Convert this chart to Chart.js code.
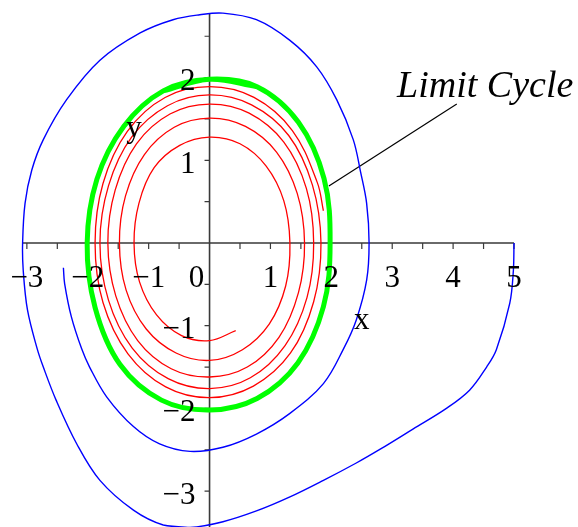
<!DOCTYPE html>
<html>
<head>
<meta charset="utf-8">
<script src="https://cdn.jsdelivr.net/npm/chart.js@4/dist/chart.umd.min.js"></script>
<style>
  html, body { margin: 0; padding: 0; background: #fff; }
  #wrap { width: 578px; height: 527px; position: relative; }
</style>
</head>
<body>
<div id="wrap"><canvas id="c"></canvas></div>
<script>
// Van der Pol phase plane: spiral from inside, trajectory from outside, limit cycle.
const redX = [0.43, 0, -0.46, -0.87, -1.15, -1.24, -1.16, -0.91, -0.49, 0, 0.50, 0.93, 1.22, 1.32, 1.25, 0.98, 0.54, 0,
  -0.55, -1.04, -1.37, -1.48, -1.38, -1.07, -0.58, 0, 0.59, 1.10, 1.44, 1.56, 1.46, 1.14, 0.62, 0,
  -0.63, -1.18, -1.54, -1.67, -1.55, -1.20, -0.65, 0, 0.65, 1.22, 1.59, 1.71, 1.60, 1.24, 0.67, 0,
  -0.68, -1.27, -1.66, -1.80, -1.66, -1.28, -0.69, 0, 0.69, 1.30, 1.69, 1.83, 1.71, 1.33, 0.72, 0,
  -0.72, -1.34, -1.75, -1.88, -1.75, -1.35, -0.73, 0, 0.73, 1.36, 1.77, 1.87];
const redY = [-1.06, -1.18, -1.12, -0.87, -0.47, 0, 0.48, 0.91, 1.18, 1.28, 1.20, 0.93, 0.51, 0, -0.52, -0.98, -1.29, -1.42,
  -1.33, -1.04, -0.57, 0, 0.57, 1.07, 1.40, 1.51, 1.41, 1.10, 0.60, 0, -0.60, -1.14, -1.50, -1.62,
  -1.52, -1.18, -0.64, 0, 0.64, 1.20, 1.56, 1.68, 1.57, 1.22, 0.66, 0, -0.66, -1.24, -1.63, -1.76,
  -1.64, -1.27, -0.69, 0, 0.69, 1.28, 1.66, 1.79, 1.67, 1.30, 0.70, 0, -0.71, -1.33, -1.73, -1.87,
  -1.74, -1.34, -0.72, 0, 0.72, 1.35, 1.76, 1.89, 1.76, 1.36, 0.73, 0.39];

// closed orbit, traced a little past its start so the joint stays smooth
const greenX = [-0.76, 0, 0.78, 1.46, 1.88, 1.98, 1.87, 1.45, 0.78, 0, -0.79, -1.47, -1.88, -2.01, -1.85, -1.41, -0.76, 0, 0.78];
const greenY = [1.84, 1.98, 1.89, 1.46, 0.78, 0, -0.77, -1.45, -1.88, -2.02, -1.90, -1.47, -0.78, 0, 0.77, 1.41, 1.84, 1.98, 1.89];

const blueX = [5, 4.99, 4.93, 4.71, 4.55, 4.27, 3.89, 3.34, 2.81, 2.41, 1.87, 1.32, 0.77, 0.22, -0.32, -0.76, -1.25, -1.80, -2.18, -2.52, -2.73, -2.83, -2.99, -3.06, -3.07, -3.03, -2.92, -2.73, -2.35, -1.80, -1.14, -0.60, -0.16, 0.22, 0.77, 1.32, 1.76, 2.09, 2.36, 2.48, 2.58, 2.62, 2.58, 2.41, 2.20, 1.87, 1.32, 0.77, 0.22, -0.32, -0.82, -1.25, -1.69, -1.97, -2.10, -2.27, -2.38, -2.40];
const blueY = [0, -0.33, -0.73, -1.29, -1.50, -1.78, -2.0, -2.25, -2.49, -2.66, -2.87, -3.07, -3.24, -3.37, -3.44, -3.41, -3.23, -2.87, -2.43, -1.90, -1.50, -1.28, -0.81, -0.33, 0, 0.48, 0.88, 1.25, 1.73, 2.21, 2.54, 2.70, 2.76, 2.78, 2.70, 2.45, 2.13, 1.73, 1.25, 0.86, 0.48, 0, -0.45, -0.93, -1.28, -1.70, -2.06, -2.31, -2.47, -2.52, -2.43, -2.22, -1.86, -1.50, -1.28, -0.89, -0.49, -0.30];

// leader from the caption to the cycle
const pointerX = [4.06, 1.96];
const pointerY = [1.68, 0.69];

const xTickValues = [-3, -2, -1, 1, 2, 3, 4, 5];
const yTickValues = [-3, -2, -1, 1, 2];
const caption = 'Limit Cycle';
const captionAt = [3.08, 1.77];

const pts = (xs, ys) => xs.map((x, i) => ({ x, y: ys[i] }));
const fmt = v => (v < 0 ? '\u2212' + Math.abs(v) : String(v));
const SERIF = '"Liberation Serif", "Times New Roman", serif';

const axesPlugin = {
  id: 'maple-axes',
  beforeDatasetsDraw(chart) {
    const { ctx, scales: { x, y } } = chart;
    const x0 = x.getPixelForValue(0), y0 = y.getPixelForValue(0);
    ctx.save();
    ctx.strokeStyle = '#3a3a3a';
    ctx.lineWidth = 1.6;
    ctx.beginPath();
    ctx.moveTo(x.getPixelForValue(x.min), y0);
    ctx.lineTo(x.getPixelForValue(x.max), y0);
    ctx.moveTo(x0, y.getPixelForValue(y.max));
    ctx.lineTo(x0, y.getPixelForValue(y.min));
    ctx.stroke();
    ctx.lineWidth = 1.2;
    ctx.beginPath();
    for (let v = -3; v <= 5; v += 0.5) {
      if (v === 0) continue;
      const px = x.getPixelForValue(v);
      ctx.moveTo(px, y0);
      ctx.lineTo(px, y0 + 6);
    }
    for (let v = -3; v <= 2.5; v += 0.5) {
      if (v === 0) continue;
      const py = y.getPixelForValue(v);
      ctx.moveTo(x0, py);
      ctx.lineTo(x0 - 5, py);
    }
    ctx.stroke();
    ctx.restore();
  },
  afterDatasetsDraw(chart) {
    const { ctx, scales: { x, y } } = chart;
    const x0 = x.getPixelForValue(0), y0 = y.getPixelForValue(0);
    ctx.save();
    ctx.fillStyle = '#000';
    ctx.font = '31px ' + SERIF;
    ctx.textBaseline = 'alphabetic';
    ctx.textAlign = 'center';
    xTickValues.forEach(v => ctx.fillText(fmt(v), x.getPixelForValue(v), y0 + 44));
    ctx.fillText('0', x0 - 13, y0 + 44);
    ctx.textAlign = 'right';
    yTickValues.forEach(v => ctx.fillText(fmt(v), x0 - 14, y.getPixelForValue(v) + 12.5));
    ctx.textAlign = 'center';
    ctx.fillText('x', x.getPixelForValue(2.5), y0 + 86);
    ctx.fillText('y', x.getPixelForValue(-1.24), y.getPixelForValue(1.28));
    ctx.textAlign = 'left';
    ctx.font = 'italic 38px ' + SERIF;
    ctx.fillText(caption, x.getPixelForValue(captionAt[0]), y.getPixelForValue(captionAt[1]));
    ctx.restore();
  }
};

const line = (data, color, width) => ({
  data, borderColor: color, borderWidth: width, showLine: true,
  pointRadius: 0, tension: 0.36, fill: false, clip: false
});

new Chart(document.getElementById('c'), {
  type: 'scatter',
  data: {
    datasets: [
      line(pts(blueX, blueY), '#0000ff', 1.4),
      line(pts(redX, redY), '#ff0000', 1.3),
      line(pts(greenX, greenY), '#00ff00', 5),
      Object.assign(line(pts(pointerX, pointerY), '#000000', 1.2), { tension: 0 })
    ]
  },
  options: {
    responsive: true,
    maintainAspectRatio: false,
    animation: false,
    events: [],
    layout: { padding: { left: 22, right: 64, top: 14, bottom: 0 } },
    plugins: { legend: { display: false }, tooltip: { enabled: false } },
    scales: {
      x: { type: 'linear', min: -3.08, max: 5, display: false },
      y: { type: 'linear', min: -3.434, max: 2.769, display: false }
    }
  },
  plugins: [axesPlugin]
});
</script>
</body>
</html>
